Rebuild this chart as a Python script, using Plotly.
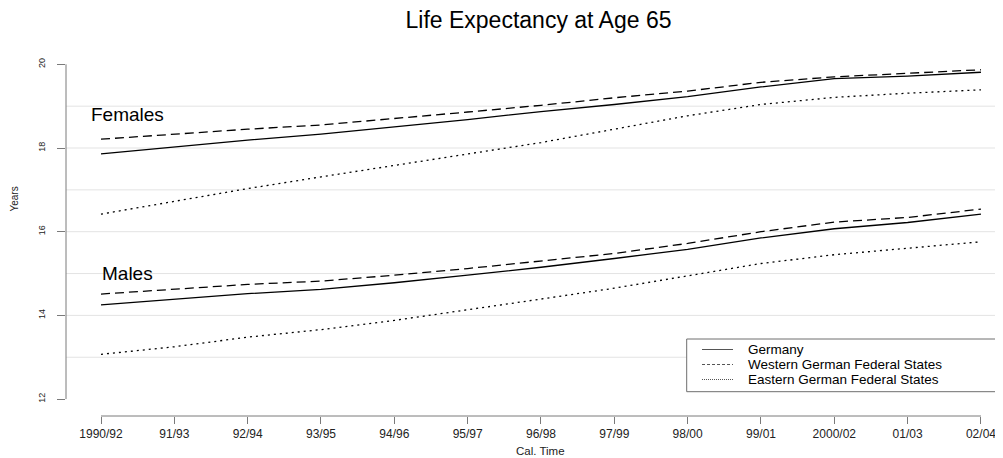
import plotly.graph_objects as go

categories = ["1990/92", "91/93", "92/94", "93/95", "94/96", "95/97", "96/98",
              "97/99", "98/00", "99/01", "2000/02", "01/03", "02/04"]

fem_germany = [17.86, 18.02, 18.19, 18.33, 18.50, 18.68, 18.87, 19.04, 19.23, 19.46, 19.66, 19.72, 19.81]
fem_west = [18.21, 18.33, 18.45, 18.55, 18.70, 18.86, 19.02, 19.20, 19.36, 19.57, 19.70, 19.78, 19.87]
fem_east = [16.42, 16.72, 17.03, 17.31, 17.58, 17.86, 18.13, 18.45, 18.77, 19.04, 19.21, 19.31, 19.39]
male_germany = [14.25, 14.38, 14.52, 14.62, 14.78, 14.96, 15.15, 15.36, 15.58, 15.85, 16.07, 16.22, 16.42]
male_west = [14.51, 14.62, 14.74, 14.82, 14.96, 15.12, 15.30, 15.48, 15.72, 16.00, 16.23, 16.34, 16.54]
male_east = [13.07, 13.25, 13.48, 13.66, 13.88, 14.13, 14.39, 14.65, 14.95, 15.24, 15.45, 15.60, 15.76]

y_ticks = [12, 14, 16, 18, 20]
grid_vals = [13, 14, 15, 16, 17, 18, 19]

legend_names = ["Germany", "Western German Federal States", "Eastern German Federal States"]
dash_styles = ["solid", "9px,5px", "2px,4px"]

# page body has an 8px margin: the figure is drawn 8px in from the window corner
OFF = 8
W, H = 1003 - OFF, 458 - OFF
ML, MR, MT, MB = 66 - OFF, 0, 50 - OFF, 42
PW, PH = W - ML - MR, H - MT - MB
FONT = "Liberation Sans, Arial, Helvetica, sans-serif"


def px_x(p):
    return (p - OFF - ML) / PW


def px_y(p):
    return (H - MB - (p - OFF)) / PH


fig = go.Figure()
series = [(fem_germany, 0), (fem_west, 1), (fem_east, 2),
          (male_germany, 0), (male_west, 1), (male_east, 2)]
for vals, k in series:
    fig.add_trace(go.Scatter(
        x=categories, y=vals, mode="lines", name=legend_names[k],
        showlegend=False,
        line=dict(color="black", width=1.3, dash=dash_styles[k]),
    ))

shapes = []
for g in grid_vals:
    shapes.append(dict(type="line", xref="paper", yref="y", x0=0, x1=1.02, y0=g, y1=g,
                       line=dict(color="#e3e3e3", width=1), layer="below"))
# axis lines spanning tick range (R style)
shapes.append(dict(type="line", xref="x", yref="paper", x0=0, x1=len(categories) - 1,
                   y0=0, y1=0, line=dict(color="#7a7a7a", width=1)))
shapes.append(dict(type="line", xref="paper", yref="y", x0=0, x1=0,
                   y0=y_ticks[0], y1=y_ticks[-1], line=dict(color="#7a7a7a", width=1)))
# legend box
shapes.append(dict(type="rect", xref="paper", yref="paper",
                   x0=px_x(686.7), x1=px_x(1012), y0=px_y(391.7), y1=px_y(339),
                   line=dict(color="#6e6e6e", width=1), fillcolor="white"))
legend_rows = [349.5, 364.5, 379.5]
annotations = []
for k, name in enumerate(legend_names):
    yy = px_y(legend_rows[k])
    shapes.append(dict(type="line", xref="paper", yref="paper",
                       x0=px_x(702), x1=px_x(733), y0=yy, y1=yy,
                       line=dict(color="#555555", width=1, dash=["solid", "3px,2px", "1px,1px"][k])))
    annotations.append(dict(text=name, xref="paper", yref="paper", x=px_x(747), y=yy,
                            xanchor="left", yanchor="middle", showarrow=False, borderpad=0,
                            font=dict(family=FONT, size=13.5, color="black")))

annotations += [
    dict(text="Females", xref="x", yref="y", x=0.36, y=18.79, showarrow=False,
         xanchor="center", yanchor="middle", font=dict(family=FONT, size=19, color="black")),
    dict(text="Males", xref="x", yref="y", x=0.36, y=15.0, showarrow=False,
         xanchor="center", yanchor="middle", font=dict(family=FONT, size=19, color="black")),
    dict(text="Years", xref="paper", yref="paper", x=px_x(13.5), y=px_y(199), showarrow=False,
         textangle=-90, xanchor="center", yanchor="middle",
         font=dict(family=FONT, size=10, color="#222")),
    dict(text="Cal. Time", xref="paper", yref="paper", x=px_x(540), y=px_y(451), showarrow=False,
         xanchor="center", yanchor="middle", font=dict(family=FONT, size=11.5, color="#222")),
]

fig.update_layout(
    width=W, height=H,
    margin=dict(l=ML, r=MR, t=MT, b=MB, pad=0),
    paper_bgcolor="white", plot_bgcolor="white",
    title=dict(text="Life Expectancy at Age 65", x=(538.5 - OFF) / W, xref="container",
               xanchor="center", y=1 - (20 - OFF) / H, yref="container", yanchor="middle",
               font=dict(family=FONT, size=23, color="black")),
    xaxis=dict(type="category", range=[-0.4773, 12.3006], showgrid=False, zeroline=False,
               showline=False, ticks="outside", ticklen=7, tickcolor="#7a7a7a", tickwidth=1,
               automargin=False,
               tickfont=dict(family=FONT, size=12, color="#222")),
    yaxis=dict(range=[11.596, 20.342], tickvals=y_ticks, ticktext=[str(v) for v in y_ticks],
               showgrid=False, zeroline=False, showline=False, ticks="outside", ticklen=8,
               tickcolor="#7a7a7a", tickwidth=1, tickangle=-90, ticklabelstandoff=8,
               automargin=False,
               tickfont=dict(family=FONT, size=9, color="#222")),
    shapes=shapes, annotations=annotations, showlegend=False,
)

fig.write_html("out.html")
